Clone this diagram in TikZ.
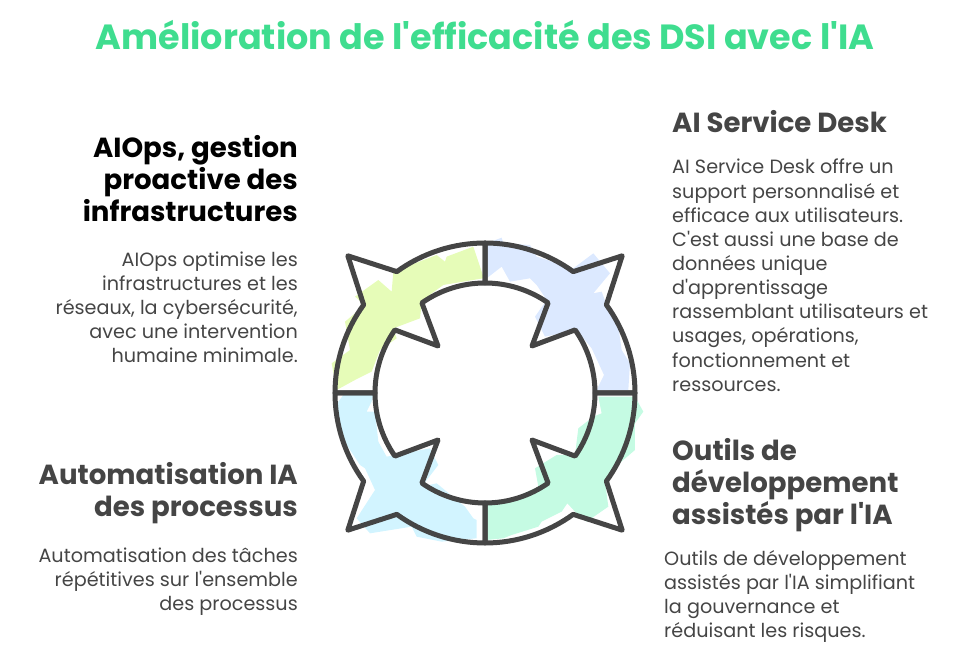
\documentclass[tikz,border=0pt]{standalone}
\usepackage{fontspec}
\setmainfont{Poppins}[Ligatures=TeXOff]
\definecolor{titlegreen}{HTML}{3FDD8F}
\definecolor{inkgray}{HTML}{454545}
\definecolor{limefill}{HTML}{E6FCB8}
\definecolor{bluefill}{HTML}{DCE9FF}
\definecolor{mintfill}{HTML}{C5FBE3}
\definecolor{cyanfill}{HTML}{D2F4FF}
\tikzset{
    headtitle/.style={font=\fontsize{35}{38}\selectfont\bfseries,text=titlegreen,inner sep=0pt},
    headleft/.style={font=\fontsize{27.6}{32}\selectfont\bfseries,align=right,anchor=north east,inner sep=0pt},
    headright/.style={font=\fontsize{27.6}{32}\selectfont\bfseries,align=left,anchor=north west,inner sep=0pt,text=inkgray},
    bodyleft/.style={font=\fontsize{19.2}{24}\selectfont,align=right,anchor=north east,inner sep=0pt,text=inkgray},
    bodyright/.style={font=\fontsize{19.2}{24.15}\selectfont,align=left,anchor=north west,inner sep=0pt,text=inkgray},
    ringpiece/.style={draw=inkgray,line width=5pt,line join=round},
    roughscope/.style={x=.3333pt,y=-.3333pt},
}
\begin{document}
\begin{tikzpicture}[x=1pt,y=1pt]
    \useasboundingbox (0,0) rectangle (958,660);
    \node[headtitle] (title) at (485,625) {Amélioration de l'efficacité des DSI avec l'IA};

    % rough fills
    \begin{scope}[shift={(330,425)},roughscope]
        \fill[limefill] (460,125) -- (430,35) -- (350,65) -- (345,80) -- (320,60) -- (190,110) -- (185,170) -- (145,135) -- (75,185) -- (105,210) -- (45,260) -- (60,345) -- (5,385) -- (20,465) -- (75,435) -- (125,410) -- (150,345) -- (200,310) -- (190,280) -- (270,250) -- (275,205) -- (285,190) -- (340,150) -- (460,130) -- cycle;
    \end{scope}
    \begin{scope}[shift={(480,425)},roughscope]
        \fill[bluefill] (20,25) -- (65,8) -- (70,25) -- (150,30) -- (170,65) -- (280,100) -- (340,55) -- (390,115) -- (340,175) -- (365,170) -- (380,210) -- (415,275) -- (425,345) -- (450,385) -- (445,465) -- (350,465) -- (372,420) -- (335,340) -- (290,285) -- (195,305) -- (165,245) -- (200,195) -- (170,150) -- (150,130) -- (90,140) -- (65,95) -- (20,130) -- cycle;
    \end{scope}
    \begin{scope}[shift={(480,270)},roughscope]
        \fill[mintfill] (355,20) -- (465,20) -- (490,65) -- (465,100) -- (465,180) -- (395,240) -- (375,275) -- (385,350) -- (320,395) -- (285,365) -- (262,340) -- (245,365) -- (185,395) -- (175,410) -- (95,435) -- (70,445) -- (20,450) -- (20,340) -- (100,325) -- (175,290) -- (165,235) -- (230,195) -- (285,195) -- (295,115) -- (340,80) -- (365,70) -- cycle;
    \end{scope}
    \begin{scope}[shift={(330,270)},roughscope]
        \fill[cyanfill] (25,35) -- (40,15) -- (130,15) -- (125,35) -- (110,65) -- (135,65) -- (145,155) -- (170,200) -- (300,175) -- (325,225) -- (275,290) -- (320,280) -- (405,350) -- (430,385) -- (440,390) -- (440,445) -- (335,455) -- (260,440) -- (245,410) -- (120,430) -- (80,385) -- (135,300) -- (105,235) -- (90,225) -- (40,150) -- (20,80) -- cycle;
    \end{scope}

    % ring of four arrows
    \begin{scope}[shift={(485,267)}]
        \foreach \q in {0,90,180,270} {
            \draw[ringpiece] (\q:150pt) arc[start angle=\q,end angle=\q+36,radius=150pt]
                -- ({\q+45}:194pt) -- ({\q+54}:150pt)
                arc[start angle=\q+54,end angle=\q+90,radius=150pt]
                -- ({\q+90}:110pt)
                arc[start angle=\q+90,end angle=\q+55,radius=110pt]
                -- ({\q+45}:66.5pt) -- ({\q+35}:110pt)
                arc[start angle=\q+35,end angle=\q,radius=110pt] -- cycle;
        }
    \end{scope}

    \node[headleft] (aiops) at (298,525) {AIOps, gestion\\proactive des\\infrastructures};
    \node[bodyleft] (aiopsbody) at (298,408) {AIOps optimise les\\infrastructures et les\\réseaux, la cybersécurité,\\avec une intervention\\humaine minimale.};
    \node[headleft,text=inkgray] (auto) at (298,198) {Automatisation IA\\des processus};
    \node[bodyleft] (autobody) at (298,112) {Automatisation des tâches\\répétitives sur l'ensemble\\des processus};
    \node[headright] (desk) at (672,550) {AI Service Desk};
    \node[bodyright] (deskbody) at (672,501) {AI Service Desk offre un\\support personnalisé et\\efficace aux utilisateurs.\\C'est aussi une base de\\données unique\\d'apprentissage\\rassemblant utilisateurs et\\usages, opérations,\\fonctionnement et\\ressources.};
    \node[headright] (tools) at (672,222) {Outils de\\développement\\assistés par l'IA};
    \node[bodyright] (toolsbody) at (664,110) {Outils de développement\\assistés par l'IA simplifiant\\la gouvernance et\\réduisant les risques.};
\end{tikzpicture}
\end{document}
